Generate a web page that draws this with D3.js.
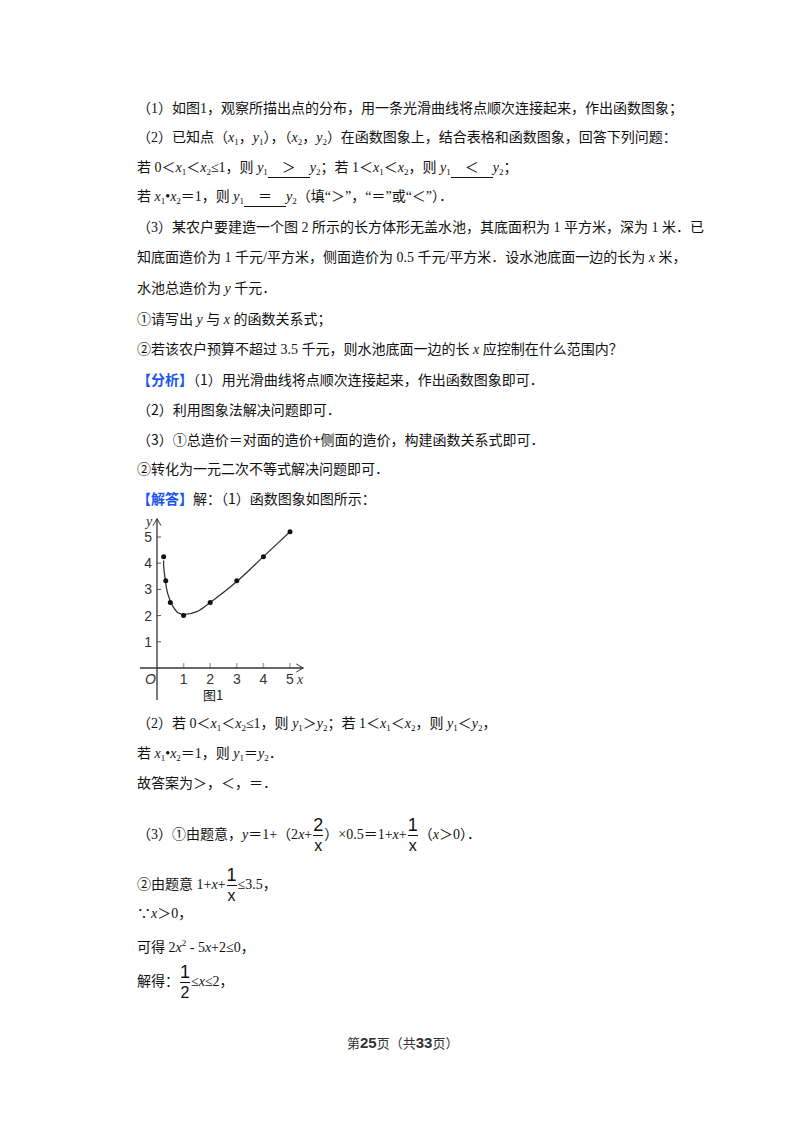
<!DOCTYPE html>
<html><head><meta charset="utf-8">
<script src="https://cdn.jsdelivr.net/npm/d3@7"></script>
<style>
body{margin:0;background:#fff;width:800px;height:1132px;position:relative;overflow:hidden;}
.l{position:absolute;left:137px;font-family:"Liberation Serif","Noto Sans CJK SC",serif;font-size:14px;color:#111;white-space:nowrap;line-height:18px;}
.c{font-family:"Noto Sans CJK SC";}
sub{font-size:9px;vertical-align:-3px;}
sup{font-size:9px;vertical-align:6px;}
.b{color:#1a55ee;font-weight:bold;font-family:"Noto Sans CJK SC";}
.u{display:inline-block;border-bottom:1px solid #111;text-align:center;width:42px;}
.fr{display:inline-block;vertical-align:middle;text-align:center;font-family:"Liberation Sans";line-height:19px;padding:0 1px;}
.fr span{display:block;}
.fr .n{border-bottom:1px solid #111;font-size:18px;}
.fr .d{font-size:16px;}
</style></head><body>
<div id="txt"></div>
<svg id="chart" width="800" height="1132" style="position:absolute;left:0;top:0"></svg>
<script>
const lines=[
[100,'（1）如图1，观察所描出点的分布，用一条光滑曲线将点顺次连接起来，作出函数图象；'],
[129,'（2）已知点（<i>x</i><sub>1</sub>，<i>y</i><sub>1</sub>），（<i>x</i><sub>2</sub>，<i>y</i><sub>2</sub>）在函数图象上，结合表格和函数图象，回答下列问题：'],
[159,'若 0＜<i>x</i><sub>1</sub>＜<i>x</i><sub>2</sub>≤1，则 <i>y</i><sub>1</sub><span class="u">＞</span><i>y</i><sub>2</sub>；若 1＜<i>x</i><sub>1</sub>＜<i>x</i><sub>2</sub>，则 <i>y</i><sub>1</sub><span class="u">＜</span><i>y</i><sub>2</sub>；'],
[188,'若 <i>x</i><sub>1</sub>•<i>x</i><sub>2</sub>＝1，则 <i>y</i><sub>1</sub><span class="u">＝</span><i>y</i><sub>2</sub>（填“＞”，“＝”或“＜”）．'],
[219,'（3）某农户要建造一个图 2 所示的长方体形无盖水池，其底面积为 1 平方米，深为 1 米．已'],
[249,'知底面造价为 1 千元/平方米，侧面造价为 0.5 千元/平方米．设水池底面一边的长为 <i>x</i> 米，'],
[280,'水池总造价为 <i>y</i> 千元．'],
[311,'①请写出 <i>y</i> 与 <i>x</i> 的函数关系式；'],
[341,'②若该农户预算不超过 3.5 千元，则水池底面一边的长 <i>x</i> 应控制在什么范围内？'],
[370,'<span class="b">【分析】</span><span class="c">（1）用光滑曲线将点顺次连接起来，作出函数图象即可．</span>'],
[400,'<span class="c">（2）利用图象法解决问题即可．</span>'],
[430,'<span class="c">（3）①总造价＝对面的造价+侧面的造价，构建函数关系式即可．</span>'],
[459,'<span class="c">②转化为一元二次不等式解决问题即可．</span>'],
[489,'<span class="b">【解答】</span><span class="c">解：（1）函数图象如图所示：</span>'],
[715,'（2）若 0＜<i>x</i><sub>1</sub>＜<i>x</i><sub>2</sub>≤1，则 <i>y</i><sub>1</sub>＞<i>y</i><sub>2</sub>；若 1＜<i>x</i><sub>1</sub>＜<i>x</i><sub>2</sub>，则 <i>y</i><sub>1</sub>＜<i>y</i><sub>2</sub>，'],
[745,'若 <i>x</i><sub>1</sub>•<i>x</i><sub>2</sub>＝1，则 <i>y</i><sub>1</sub>＝<i>y</i><sub>2</sub>．'],
[775,'故答案为＞，＜，＝．'],
[816,'（3）①由题意，<i>y</i>＝1+（2<i>x</i>+<span class="fr"><span class="n">2</span><span class="d">x</span></span>）×0.5＝1+<i>x</i>+<span class="fr"><span class="n">1</span><span class="d">x</span></span>（<i>x</i>＞0）．'],
[866,'②由题意 1+<i>x</i>+<span class="fr"><span class="n">1</span><span class="d">x</span></span>≤3.5，'],
[905,'∵<i>x</i>＞0，'],
[934,'可得 2<i>x</i><sup>2</sup> - 5<i>x</i>+2≤0，'],
[963,'解得：<span class="fr"><span class="n">1</span><span class="d">2</span></span>≤<i>x</i>≤2，']
];
const txt=d3.select('#txt');
lines.forEach(([t,h])=>txt.append('div').attr('class','l').style('top',t+'px').html(h));
txt.append('div').attr('class','l').style('left','347px').style('top','1034px').style('font-size','13px').style('color','#333')
 .html('<span class="c">第</span><b style="font-family:Liberation Sans;font-size:15px">25</b><span class="c">页（共</span><b style="font-family:Liberation Sans;font-size:15px">33</b><span class="c">页）</span>');

// chart
const xTicks=[1,2,3,4,5], yTicks=[1,2,3,4,5];
const ptX=[0.25,0.33,0.5,1,2,3,4,5];
const ptY=[4.25,3.33,2.5,2,2.5,3.33,4.25,5.2];
const curX=[0.25,0.25,0.3,0.4,0.6,0.8,1,1.5,2,3,4,5.05];
const curY=[4.1,3.9,3.45,2.85,2.35,2.1,2.05,2.15,2.5,3.3,4.25,5.25];
const svg=d3.select('#chart');
const x=d3.scaleLinear().domain([0,5]).range([157,290]);
const y=d3.scaleLinear().domain([0,5]).range([668,537]);
const g=svg.append('g');
g.selectAll('.xt').data(xTicks).join('line').attr('x1',d=>x(d)).attr('x2',d=>x(d)).attr('y1',y(0)).attr('y2',y(0)-5).attr('stroke','#aaa').attr('stroke-width',1.5);
g.selectAll('.yt').data(yTicks).join('line').attr('x1',x(0)).attr('x2',x(0)+4).attr('y1',d=>y(d)).attr('y2',d=>y(d)).attr('stroke','#555');
g.append('line').attr('x1',140).attr('x2',x(5.5)).attr('y1',y(0)).attr('y2',y(0)).attr('stroke','#333').attr('stroke-width',1.3);
g.append('path').attr('d',`M${x(5.5)-7},${y(0)-4}L${x(5.5)},${y(0)}L${x(5.5)-7},${y(0)+4}`).attr('fill','none').attr('stroke','#333');
g.append('line').attr('x1',x(0)).attr('x2',x(0)).attr('y1',700).attr('y2',y(5.7)).attr('stroke','#333').attr('stroke-width',1.3);
g.append('path').attr('d',`M${x(0)-4},${y(5.7)+7}L${x(0)},${y(5.7)}L${x(0)+4},${y(5.7)+7}`).attr('fill','none').attr('stroke','#333');
const lf="Liberation Sans";
g.selectAll('.xl').data(xTicks).join('text').attr('x',d=>x(d)).attr('y',y(0)+16).attr('text-anchor','middle').attr('font-family',lf).attr('font-size',14).attr('fill','#333').text(d=>d);
g.selectAll('.yl').data(yTicks).join('text').attr('x',x(0)-5).attr('y',d=>y(d)+5).attr('text-anchor','end').attr('font-family',lf).attr('font-size',14).attr('fill','#333').text(d=>d);
g.append('text').attr('x',145).attr('y',y(0)+16).attr('font-family',lf).attr('font-style','italic').attr('font-size',14).attr('fill','#333').text('O');
g.append('text').attr('x',297).attr('y',y(0)+16).attr('font-family','Liberation Serif').attr('font-style','italic').attr('font-size',14).attr('fill','#333').text('x');
g.append('text').attr('x',146).attr('y',526).attr('font-family','Liberation Serif').attr('font-style','italic').attr('font-size',14).attr('fill','#333').text('y');
g.append('text').attr('x',203).attr('y',700).attr('font-family','Noto Sans CJK SC').attr('font-size',13).attr('fill','#222').text('图1');
const cur=curX.map((d,i)=>[d,curY[i]]);
g.append('path').attr('d',d3.line().x(d=>x(d[0])).y(d=>y(d[1])).curve(d3.curveCatmullRom)(cur)).attr('fill','none').attr('stroke','#333').attr('stroke-width',1.3);
g.selectAll('.p').data(ptX).join('circle').attr('cx',d=>x(d)).attr('cy',(d,i)=>y(ptY[i])).attr('r',2.5).attr('fill','#111');
</script></body></html>
